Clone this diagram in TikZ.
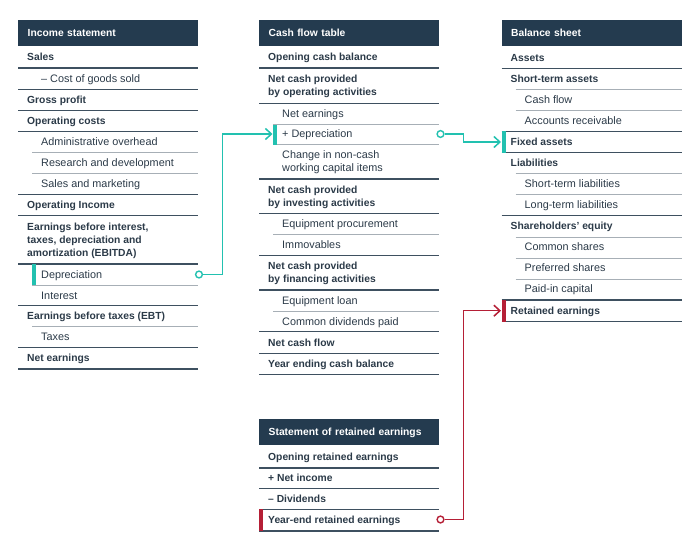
\documentclass[tikz,border=0pt]{standalone}
\usepackage{fontspec}
\setmainfont{Liberation Sans}
\usetikzlibrary{arrows.meta}

\definecolor{headblue}{HTML}{243B4F}
\definecolor{inktext}{HTML}{2B3A48}
\definecolor{ruledark}{HTML}{3E5060}
\definecolor{rulelight}{HTML}{A7AFB6}
\definecolor{linkteal}{HTML}{22C1B0}
\definecolor{linkred}{HTML}{B51F36}

\tikzset{
    every node/.style={inner sep=0pt, text=inktext, font=\fontsize{10.85}{13}\selectfont},
    head/.style={anchor=north west, fill=headblue, text=white,
        minimum width=180pt, minimum height=26pt, text width=161pt,
        inner xsep=9.5pt, inner ysep=0pt, text height=7.5pt, text depth=0pt,
        font=\fontsize{10.3}{13}\selectfont\bfseries},
    row/.style={anchor=base west, yshift=-3.75pt, align=left},
    main/.style={row, xshift=9pt, font=\fontsize{10.3}{13}\selectfont\bfseries},
    sub/.style={row, xshift=23pt},
    darkrule/.style={draw=ruledark, line width=1.5pt},
    lightrule/.style={draw=rulelight, line width=1pt, shorten <=14pt},
    dot/.style={circle, draw=#1, fill=white, line width=1.4pt, minimum size=6.8pt},
    link/.style={line width=1.5pt, -{Straight Barb[length=6pt,width=11pt]}},
}

\begin{document}
\begin{tikzpicture}[x=1pt, y=-1pt]
    \useasboundingbox (0,0) rectangle (700,554);

    % income statement (y of a row = its last text line)
    \begin{scope}[xshift=18pt]
        \node[head] (inc-head) at (0,20) {Income statement};
        \foreach \n/\y/\b/\k/\r/\t in {
            sales/57/68/main/darkrule/Sales,
            cogs/79/89.5/sub/darkrule/{– Cost of goods sold},
            gross/100/110.5/main/darkrule/Gross profit,
            opcost/121/131.5/main/darkrule/Operating costs,
            admin/142/152.5/sub/lightrule/Administrative overhead,
            rnd/163/173.5/sub/lightrule/Research and development,
            sam/184/194.5/sub/darkrule/Sales and marketing,
            opinc/205/215.5/main/darkrule/Operating Income,
            ebitda/253/264/main/darkrule/{Earnings before interest,\\taxes, depreciation and\\amortization (EBITDA)},
            depr/274.5/285/sub/lightrule/Depreciation,
            intr/295.5/305.5/sub/darkrule/Interest,
            ebt/316/326.5/main/lightrule/Earnings before taxes (EBT),
            taxes/337/347.5/sub/darkrule/Taxes,
            net/358/369/main/darkrule/Net earnings}
        {
            \node[\k] (inc-\n) at (0,\y) {\t};
            \draw[\r] (0,\b) -- (180,\b);
        }
        \fill[linkteal] (14,264) rectangle (18,285);
        \node[dot=linkteal] (inc-out) at (181,274.5) {};
    \end{scope}

    % cash flow table
    \begin{scope}[xshift=259pt]
        \node[head] (cf-head) at (0,20) {Cash flow table};
        \foreach \n/\y/\b/\k/\r/\t in {
            open/57/68/main/darkrule/Opening cash balance,
            opact/91.7/103.5/main/darkrule/{Net cash provided\\by operating activities},
            netearn/113.5/124.5/sub/lightrule/Net earnings,
            depr/134/144.5/sub/lightrule/+ Depreciation,
            nonc/167.7/179/sub/darkrule/{Change in non-cash\\working capital items},
            invact/202.7/213.5/main/darkrule/{Net cash provided\\by investing activities},
            equip/224/234.5/sub/lightrule/Equipment procurement,
            immov/245/255.5/sub/darkrule/Immovables,
            finact/279/290/main/darkrule/{Net cash provided\\by financing activities},
            loan/300.5/311/sub/lightrule/Equipment loan,
            divs/321.5/331.7/sub/darkrule/Common dividends paid,
            netcf/342.7/353.3/main/darkrule/Net cash flow,
            yend/364/374.3/main/darkrule/Year ending cash balance}
        {
            \node[\k] (cf-\n) at (0,\y) {\t};
            \draw[\r] (0,\b) -- (180,\b);
        }
        \fill[linkteal] (14,124.5) rectangle (18,144.5);
        \coordinate (cf-in) at (13.5,134);
        \node[dot=linkteal] (cf-out) at (181.5,134) {};
    \end{scope}

    % balance sheet
    \begin{scope}[xshift=501.5pt]
        \node[head] (bs-head) at (0,20) {Balance sheet};
        \foreach \n/\y/\b/\k/\r/\t in {
            assets/57.3/68.3/main/darkrule/Assets,
            stassets/79/89.3/main/lightrule/Short-term assets,
            cash/100/110.3/sub/lightrule/Cash flow,
            recv/121/131.3/sub/darkrule/Accounts receivable,
            fixed/142/152.7/main/darkrule/Fixed assets,
            liab/163/173.7/main/lightrule/Liabilities,
            stliab/184/194.7/sub/lightrule/Short-term liabilities,
            ltliab/205/215.7/sub/darkrule/Long-term liabilities,
            equity/226/237.3/main/lightrule/Shareholders’ equity,
            common/247/258/sub/lightrule/Common shares,
            pref/268/279/sub/lightrule/Preferred shares,
            paidin/289/300/sub/darkrule/Paid-in capital,
            retain/310.7/321.7/main/darkrule/Retained earnings}
        {
            \node[\k] (bs-\n) at (0,\y) {\t};
            \draw[\r] (0,\b) -- (180,\b);
        }
        \fill[linkteal] (0,131.3) rectangle (4,152.7);
        \fill[linkred] (0,300) rectangle (4,321.7);
        \coordinate (bs-fixed-in) at (-0.5,142);
        \coordinate (bs-retain-in) at (-0.5,310.7);
    \end{scope}

    % statement of retained earnings
    \begin{scope}[xshift=259pt]
        \node[head] (re-head) at (0,418.5) {Statement of retained earnings};
        \foreach \n/\y/\b/\k/\r/\t in {
            open/456.7/468/main/darkrule/Opening retained earnings,
            netinc/477.3/488.5/main/darkrule/+ Net income,
            divs/498.3/509.3/main/darkrule/– Dividends,
            yend/519.5/531/main/darkrule/Year-end retained earnings}
        {
            \node[\k] (re-\n) at (0,\y) {\t};
            \draw[\r] (0,\b) -- (180,\b);
        }
        \fill[linkred] (0,509.3) rectangle (4,531);
        \node[dot=linkred] (re-out) at (181.5,519.5) {};
    \end{scope}

    % links
    \draw[link, linkteal] (inc-out.east) -- ++(19.5,0) |- (cf-in);
    \draw[link, linkteal] (cf-out.east) -- ++(19,0) |- (bs-fixed-in);
    \draw[link, linkred] (re-out.east) -- ++(19,0) |- (bs-retain-in);
\end{tikzpicture}
\end{document}
